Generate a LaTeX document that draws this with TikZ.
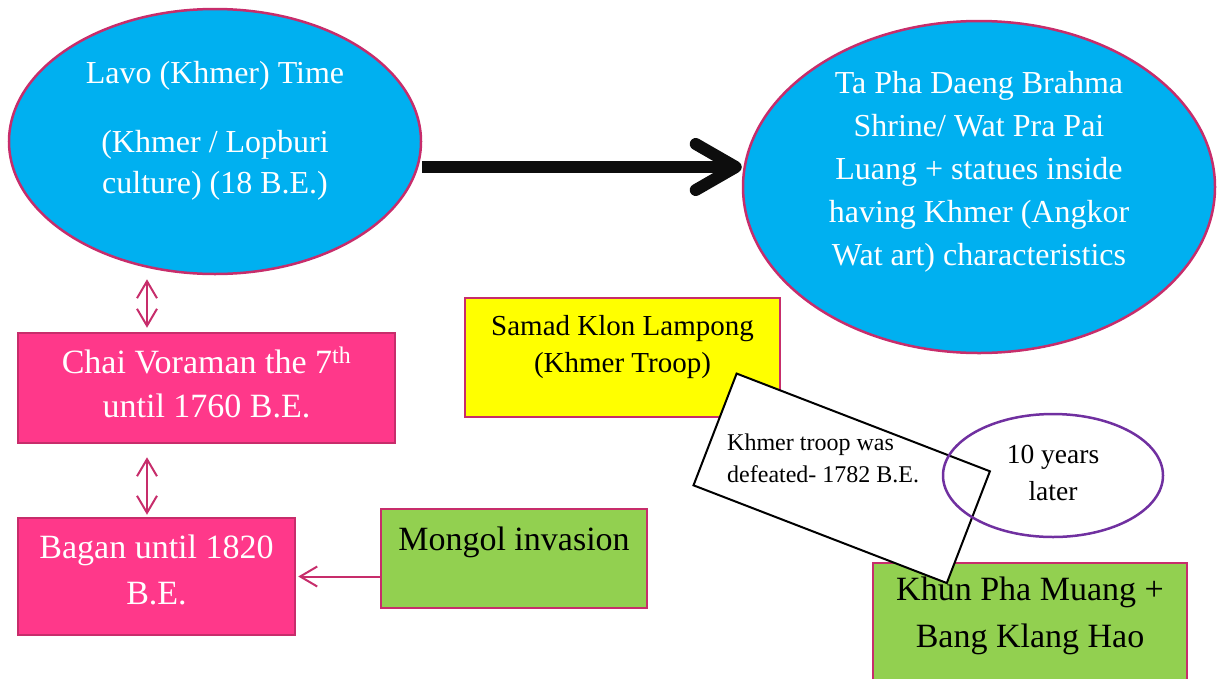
\documentclass[tikz,border=0pt]{standalone}
\usepackage{fontspec}
\setmainfont{Liberation Serif}
\usetikzlibrary{shapes.geometric,arrows.meta,positioning}
\definecolor{skyblue}{RGB}{0,176,240}
\definecolor{rim}{RGB}{199,45,107}
\definecolor{hotpink}{RGB}{255,56,138}
\definecolor{leaf}{RGB}{146,208,80}
\definecolor{lemon}{RGB}{255,255,0}
\definecolor{grape}{RGB}{112,48,160}
\definecolor{ink}{RGB}{13,13,13}
\tikzset{
  bubble/.style={ellipse,draw=rim,line width=2.5pt,fill=skyblue,inner sep=0pt},
  era/.style={rectangle,draw=rim,line width=2.5pt,fill=hotpink,inner sep=0pt},
  field/.style={rectangle,draw=rim,line width=2.5pt,fill=leaf,inner sep=0pt},
  wtext/.style={text=white,align=center,inner sep=0pt,anchor=base},
  btext/.style={text=black,align=center,inner sep=0pt,anchor=base},
  pinkarrow/.style={draw=rim,line width=2pt,{Straight Barb[length=17pt,width=20pt]}-{Straight Barb[length=17pt,width=20pt]}},
  bigarrow/.style={draw=ink,line width=12pt,-{Straight Barb[length=40pt,width=46pt,round]}}
}
\begin{document}
\begin{tikzpicture}[x=1pt,y=-1pt]
\useasboundingbox (0,0) rectangle (1223,678);
\node[bubble,minimum width=412pt,minimum height=265pt] (lavo) at (215,141.5) {};
\node[bubble,minimum width=472pt,minimum height=332pt] (tapha) at (979,187) {};
\node[era,minimum width=377pt,minimum height=110pt] (chai) at (206.5,388) {};
\node[era,minimum width=277pt,minimum height=117pt] (bagan) at (156.5,576.5) {};
\node[field,minimum width=266pt,minimum height=99pt] (mongol) at (514,558.5) {};
\node[field,fill=lemon,minimum width=315pt,minimum height=119pt] (samad) at (622.5,357.5) {};
\node[field,minimum width=314pt,minimum height=137pt] (khun) at (1030,631.5) {};
\node[draw,fill=white,line width=2pt,rotate=-21.1,minimum width=271.5pt,minimum height=119.8pt,inner sep=0pt] (defeat) at (841.7,478.3) {};
\node[ellipse,draw=grape,line width=2.5pt,minimum width=220pt,minimum height=123pt,inner sep=0pt] (later) at (1053,475.5) {};

\node[wtext,font=\fontsize{32}{41}\selectfont] (lavotxt) at (215,193) {Lavo (Khmer) Time\\[28pt](Khmer / Lopburi\\culture) (18 B.E.)};
\node[wtext,font=\fontsize{32}{43}\selectfont] (taphatxt) at (979,265) {Ta Pha Daeng Brahma\\Shrine/ Wat Pra Pai\\Luang + statues inside\\having Khmer (Angkor\\Wat art) characteristics};
\node[wtext,font=\fontsize{34}{44}\selectfont] (chaitxt) at (206.5,417) {Chai Voraman the 7\textsuperscript{th}\\until 1760 B.E.};
\node[wtext,font=\fontsize{34}{46}\selectfont] (bagantxt) at (156.5,604) {Bagan until 1820\\B.E.};
\node[btext,font=\fontsize{34}{46}\selectfont] (mongoltxt) at (514,550) {Mongol invasion};
\node[btext,font=\fontsize{29}{37}\selectfont] (samadtxt) at (622.5,372) {Samad Klon Lampong\\(Khmer Troop)};
\node[btext,font=\fontsize{34}{47}\selectfont] (khuntxt) at (1030,647) {Khun Pha Muang +\\Bang Klang Hao};
\node[btext,align=left,anchor=base west,font=\fontsize{24}{32}\selectfont] (defeattxt) at (727,482) {Khmer troop was\\defeated- 1782 B.E.};
\node[btext,font=\fontsize{27.5}{37}\selectfont] (latertxt) at (1053,500) {10 years\\later};

\coordinate (axis) at (147,0);
\coordinate (bigy) at (0,167);
\draw[bigarrow] (lavo.east |- bigy) -- (tapha.west |- bigy);
\draw[pinkarrow,shorten <=4pt,shorten >=4pt] (chai.north -| axis) -- (lavo.south -| axis);
\draw[pinkarrow,shorten <=13pt,shorten >=2pt] (chai.south -| axis) -- (bagan.north -| axis);
\draw[draw=rim,line width=2pt,-{Straight Barb[length=17pt,width=20pt]},shorten >=2pt] (mongol.west |- bagan.east) -- (bagan.east);
\end{tikzpicture}
\end{document}
